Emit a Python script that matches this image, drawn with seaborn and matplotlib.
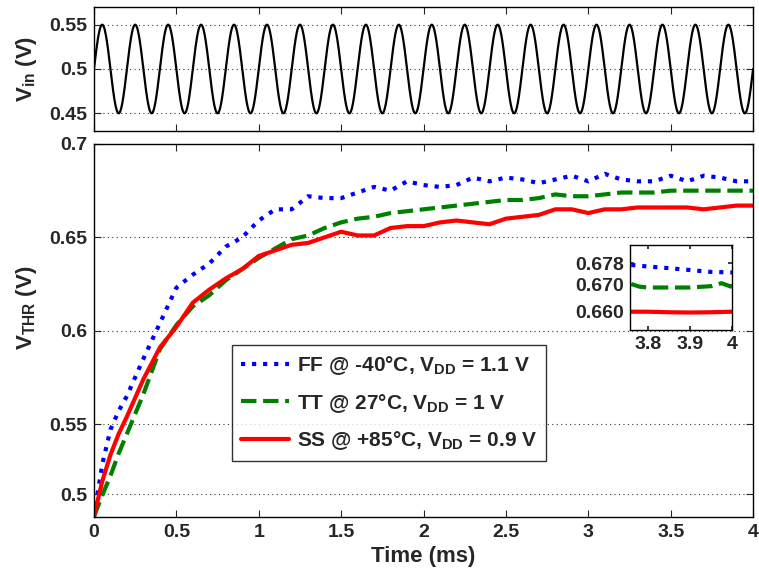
import numpy as np
import pandas as pd
import seaborn as sns
import matplotlib
matplotlib.use("Agg")
import matplotlib.pyplot as plt
from matplotlib.ticker import FuncFormatter

# input sine: 0.5 V +/- 50 mV, 20 periods in 4 ms
vin_offset = 0.5
vin_amp = 0.05
vin_freq = 5.0  # cycles per ms

# threshold voltage samples, time in ms
time_ms = [0, 0.05, 0.1, 0.15, 0.2, 0.3, 0.4, 0.5, 0.6, 0.7, 0.8, 0.9, 1.0,
           1.1, 1.2, 1.3, 1.4, 1.5, 1.6, 1.7, 1.8, 1.9, 2.0, 2.1, 2.2, 2.3,
           2.4, 2.5, 2.6, 2.7, 2.8, 2.9, 3.0, 3.1, 3.2, 3.3, 3.4, 3.5, 3.6,
           3.7, 3.8, 3.9, 4.0]
vthr_ff = [0.484, 0.521, 0.546, 0.557, 0.565, 0.585, 0.604, 0.623, 0.630,
           0.636, 0.645, 0.650, 0.659, 0.665, 0.665, 0.672, 0.671, 0.671,
           0.674, 0.677, 0.675, 0.680, 0.678, 0.677, 0.678, 0.682, 0.680,
           0.682, 0.681, 0.679, 0.681, 0.683, 0.680, 0.684, 0.681, 0.680,
           0.680, 0.683, 0.680, 0.683, 0.682, 0.680, 0.680]
vthr_tt = [0.484, 0.499, 0.513, 0.529, 0.543, 0.566, 0.590, 0.603, 0.613,
           0.619, 0.627, 0.633, 0.639, 0.644, 0.649, 0.651, 0.655, 0.658,
           0.660, 0.661, 0.663, 0.664, 0.665, 0.666, 0.667, 0.668, 0.669,
           0.670, 0.670, 0.671, 0.673, 0.672, 0.672, 0.673, 0.674, 0.674,
           0.674, 0.675, 0.675, 0.675, 0.675, 0.675, 0.675]
vthr_ss = [0.484, 0.509, 0.528, 0.543, 0.554, 0.574, 0.591, 0.602, 0.615,
           0.622, 0.628, 0.633, 0.640, 0.643, 0.646, 0.647, 0.650, 0.653,
           0.651, 0.651, 0.655, 0.656, 0.656, 0.658, 0.659, 0.658, 0.657,
           0.660, 0.661, 0.662, 0.665, 0.665, 0.663, 0.665, 0.665, 0.666,
           0.666, 0.666, 0.666, 0.665, 0.666, 0.667, 0.667]

# zoomed inset values
inset_t = [3.76, 3.78, 3.80, 3.85, 3.90, 3.95, 3.975, 4.0]
inset_ff = [0.6774, 0.6771, 0.6768, 0.6762, 0.6755, 0.6748, 0.6747, 0.6746]
inset_tt = [0.6703, 0.6693, 0.6690, 0.6690, 0.6690, 0.6695, 0.6706, 0.6692]
inset_ss = [0.6600, 0.6600, 0.6600, 0.6598, 0.6597, 0.6598, 0.6599, 0.6600]

labels = [r"FF @ -40°C, $V_{DD}$ = 1.1 V",
          r"TT @ 27°C, $V_{DD}$ = 1 V",
          r"SS @ +85°C, $V_{DD}$ = 0.9 V"]
colors = ["#0000ff", "#008000", "#ff0000"]
styles = [":", "--", "-"]

sns.set_theme(style="ticks")
plt.rcParams["font.family"] = ["Liberation Sans", "DejaVu Sans"]
plt.rcParams["font.weight"] = "bold"
plt.rcParams["axes.labelweight"] = "bold"
plt.rcParams["mathtext.fontset"] = "custom"
plt.rcParams["mathtext.bf"] = "Liberation Sans:bold"
plt.rcParams["mathtext.rm"] = "Liberation Sans:bold"
plt.rcParams["mathtext.it"] = "Liberation Sans:bold"
plt.rcParams["mathtext.default"] = "bf"

fig = plt.figure(figsize=(7.59, 5.82), dpi=100)
ax_in = fig.add_axes([0.1238, 0.7749, 0.8684, 0.2131])
ax = fig.add_axes([0.1238, 0.1117, 0.8684, 0.6409])
ax_zoom = fig.add_axes([0.830, 0.433, 0.1344, 0.146])

# top panel: input signal
t_fine = np.linspace(0, 4, 2001)
vin = vin_offset + vin_amp * np.sin(2 * np.pi * vin_freq * t_fine)
sns.lineplot(x=t_fine, y=vin, color="black", linewidth=1.6, ax=ax_in)
ax_in.set_xlim(0, 4)
ax_in.set_ylim(0.43, 0.57)
ax_in.set_yticks([0.45, 0.5, 0.55])
ax_in.set_xticks([0, 0.5, 1, 1.5, 2, 2.5, 3, 3.5, 4])
ax_in.set_xticklabels([])
ax_in.set_ylabel(r"$V_{in}$ (V)", fontsize=16)

# main panel
df = pd.DataFrame({"t": time_ms, "ff": vthr_ff, "tt": vthr_tt, "ss": vthr_ss})
for col, lab, c, ls in zip(["ff", "tt", "ss"], labels, colors, styles):
    sns.lineplot(data=df, x="t", y=col, color=c, linestyle=ls, linewidth=3,
                 label=lab, ax=ax)

# the reference y axis is stretched differently above and below 0.55
def fwd(v):
    v = np.asarray(v, dtype=float)
    return np.where(v < 0.55, (v - 0.55) * 1400.0, (v - 0.55) * 1866.7)

def inv(p):
    p = np.asarray(p, dtype=float)
    return np.where(p < 0, 0.55 + p / 1400.0, 0.55 + p / 1866.7)

ax.set_yscale("function", functions=(fwd, inv))
ax.set_xlim(0, 4)
ax.set_ylim(0.4836, 0.7)
ax.set_yticks([0.5, 0.55, 0.6, 0.65, 0.7])
ax.set_xticks([0, 0.5, 1, 1.5, 2, 2.5, 3, 3.5, 4])
ax.minorticks_off()
ax.set_xlabel("Time (ms)", fontsize=16)
ax.set_ylabel(r"$V_{THR}$ (V)", fontsize=16)

leg = ax.legend(loc="upper left", bbox_to_anchor=(0.2094, 0.461),
                borderaxespad=0, fontsize=15, frameon=True, fancybox=False,
                handlelength=2.3, handletextpad=0.35, labelspacing=0.7,
                borderpad=0.45)
leg.get_frame().set_edgecolor("black")
leg.get_frame().set_linewidth(1.0)

fmt = FuncFormatter(lambda v, p: f"{v:g}")
for a in (ax_in, ax):
    a.grid(axis="y", linestyle=(0, (1, 3)), color="#333333", linewidth=0.8)
    a.yaxis.set_major_formatter(fmt)
    if a is ax:
        a.xaxis.set_major_formatter(fmt)
    a.tick_params(direction="in", top=True, right=True, length=5,
                  labelsize=14, pad=5, width=0.8)
    for lbl in a.get_xticklabels() + a.get_yticklabels():
        lbl.set_fontweight("bold")
    for s in a.spines.values():
        s.set_color("black")
        s.set_linewidth(1.0)

ax_in.yaxis.set_label_coords(-0.084, 0.5)
ax.yaxis.set_label_coords(-0.084, 0.56)

# inset
for y, c, ls in zip([inset_ff, inset_tt, inset_ss], colors, styles):
    sns.lineplot(x=inset_t, y=y, color=c, linestyle=ls, linewidth=3, ax=ax_zoom)
ax_zoom.set_xlim(3.757, 4.0)
ax_zoom.set_ylim(0.6532, 0.6848)
ax_zoom.set_xticks([3.8, 3.9, 4.0])
ax_zoom.set_xticklabels(["3.8", "3.9", "4"], fontweight="bold")
ax_zoom.set_yticks([0.660, 0.670, 0.678])
ax_zoom.set_yticklabels(["0.660", "0.670", "0.678"], fontweight="bold")
ax_zoom.tick_params(direction="in", top=True, right=True, length=3,
                    labelsize=14, pad=4)
for s in ax_zoom.spines.values():
    s.set_color("black")
    s.set_linewidth(1.0)

fig.savefig("out.png", dpi=100)
